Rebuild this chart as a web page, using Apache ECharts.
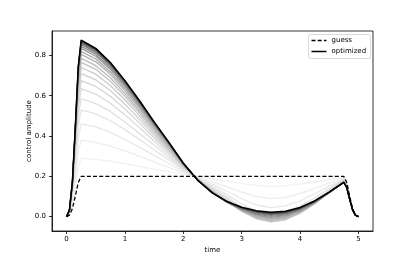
<!DOCTYPE html>
<html>
<head>
<meta charset="utf-8">
<script src="https://cdn.jsdelivr.net/npm/echarts@6/dist/echarts.min.js"></script>
<style>html,body{margin:0;padding:0;background:#fff}#c{width:415px;height:260px}</style>
</head>
<body>
<div id="c"></div>
<script>
// ---- data ----
const time = [0,0.05,0.1,0.15,0.2,0.25,0.5,0.75,1,1.25,1.5,1.75,2,2.25,2.5,2.75,3,3.25,3.5,3.75,4,4.25,4.5,4.75,4.8,4.85,4.9,4.95,5];
const guess = [0,0.008,0.040,0.102,0.170,0.2,0.2,0.2,0.2,0.2,0.2,0.2,0.2,0.2,0.2,0.2,0.2,0.2,0.2,0.2,0.2,0.2,0.2,0.2,0.170,0.102,0.040,0.008,0];
const iter01 = [0,0.012,0.058,0.148,0.247,0.290,0.284,0.275,0.263,0.250,0.236,0.223,0.209,0.197,0.187,0.176,0.164,0.155,0.150,0.153,0.161,0.172,0.184,0.196,0.167,0.100,0.039,0.008,0];
const iter02 = [0,0.015,0.076,0.194,0.323,0.380,0.369,0.350,0.326,0.300,0.272,0.245,0.217,0.195,0.172,0.148,0.122,0.099,0.090,0.096,0.114,0.139,0.167,0.192,0.163,0.098,0.038,0.008,0];
const iter03 = [0,0.018,0.092,0.235,0.391,0.460,0.445,0.418,0.383,0.344,0.304,0.265,0.225,0.192,0.160,0.126,0.089,0.058,0.045,0.054,0.078,0.114,0.153,0.188,0.160,0.096,0.038,0.008,0];
const iter04 = [0,0.021,0.106,0.270,0.451,0.530,0.510,0.476,0.432,0.383,0.332,0.283,0.232,0.190,0.150,0.108,0.064,0.026,0.010,0.021,0.051,0.094,0.141,0.185,0.157,0.094,0.037,0.007,0];
const iter05 = [0,0.023,0.117,0.298,0.497,0.585,0.561,0.522,0.470,0.413,0.354,0.297,0.237,0.189,0.142,0.096,0.048,0.008,-0.010,0.002,0.034,0.082,0.134,0.183,0.156,0.093,0.037,0.007,0];
const iter06 = [0,0.025,0.127,0.324,0.540,0.635,0.608,0.563,0.505,0.441,0.374,0.309,0.242,0.187,0.137,0.088,0.038,-0.002,-0.020,-0.008,0.025,0.074,0.129,0.181,0.154,0.092,0.036,0.007,0];
const iter07 = [0,0.027,0.135,0.344,0.574,0.675,0.646,0.597,0.534,0.464,0.390,0.320,0.246,0.186,0.132,0.082,0.033,-0.007,-0.025,-0.014,0.020,0.069,0.125,0.179,0.152,0.091,0.036,0.007,0];
const iter08 = [0,0.028,0.142,0.362,0.604,0.710,0.679,0.626,0.558,0.483,0.404,0.328,0.249,0.185,0.129,0.078,0.030,-0.009,-0.026,-0.015,0.018,0.067,0.123,0.177,0.150,0.090,0.035,0.007,0];
const iter09 = [0,0.030,0.148,0.377,0.629,0.740,0.707,0.651,0.580,0.500,0.416,0.336,0.252,0.184,0.126,0.075,0.028,-0.009,-0.025,-0.014,0.017,0.065,0.121,0.176,0.150,0.090,0.035,0.007,0];
const iter10 = [0,0.031,0.153,0.390,0.650,0.765,0.731,0.672,0.597,0.514,0.426,0.342,0.254,0.183,0.124,0.074,0.028,-0.007,-0.022,-0.012,0.019,0.065,0.120,0.175,0.149,0.089,0.035,0.007,0];
const iter11 = [0,0.031,0.157,0.400,0.667,0.785,0.749,0.689,0.611,0.524,0.434,0.347,0.256,0.183,0.123,0.073,0.029,-0.003,-0.018,-0.009,0.021,0.066,0.120,0.174,0.148,0.089,0.035,0.007,0];
const iter12 = [0,0.032,0.161,0.411,0.684,0.805,0.768,0.706,0.625,0.536,0.442,0.352,0.258,0.182,0.121,0.072,0.031,0.001,-0.013,-0.004,0.024,0.067,0.120,0.173,0.147,0.088,0.035,0.007,0];
const iter13 = [0,0.033,0.164,0.418,0.697,0.820,0.782,0.718,0.636,0.544,0.448,0.356,0.260,0.182,0.120,0.072,0.033,0.005,-0.008,0.000,0.027,0.068,0.119,0.173,0.147,0.088,0.035,0.007,0];
const iter14 = [0,0.033,0.167,0.426,0.710,0.835,0.796,0.731,0.646,0.552,0.454,0.360,0.261,0.181,0.119,0.072,0.035,0.009,-0.003,0.005,0.030,0.069,0.120,0.172,0.146,0.088,0.034,0.007,0];
const iter15 = [0,0.034,0.169,0.431,0.718,0.845,0.806,0.739,0.653,0.558,0.458,0.362,0.262,0.181,0.119,0.072,0.037,0.013,0.002,0.009,0.033,0.071,0.120,0.171,0.145,0.087,0.034,0.007,0];
const iter16 = [0,0.034,0.171,0.436,0.727,0.855,0.815,0.748,0.660,0.563,0.462,0.365,0.263,0.181,0.118,0.073,0.039,0.017,0.007,0.014,0.036,0.073,0.120,0.171,0.145,0.087,0.034,0.007,0];
const iter17 = [0,0.034,0.172,0.440,0.733,0.862,0.822,0.753,0.665,0.567,0.464,0.366,0.264,0.180,0.118,0.073,0.041,0.021,0.011,0.017,0.039,0.074,0.121,0.171,0.145,0.087,0.034,0.007,0];
const iter18 = [0,0.035,0.174,0.443,0.738,0.868,0.827,0.758,0.669,0.571,0.467,0.368,0.264,0.180,0.118,0.074,0.043,0.024,0.015,0.021,0.041,0.075,0.121,0.170,0.145,0.087,0.034,0.007,0];
const iter19 = [0,0.035,0.174,0.445,0.741,0.872,0.831,0.762,0.672,0.573,0.468,0.369,0.265,0.180,0.118,0.074,0.045,0.026,0.018,0.023,0.043,0.077,0.122,0.170,0.145,0.087,0.034,0.007,0];
const optimized = [0,0.035,0.175,0.447,0.745,0.876,0.835,0.765,0.675,0.575,0.470,0.370,0.265,0.180,0.118,0.075,0.047,0.030,0.022,0.027,0.046,0.078,0.122,0.170,0.145,0.087,0.034,0.007,0];
const xTicks = [0,1,2,3,4,5];
const yTicks = [0,0.2,0.4,0.6,0.8];
const legendLabels = ['guess','optimized'];
const iterations = [iter01,iter02,iter03,iter04,iter05,iter06,iter07,iter08,iter09,iter10,iter11,iter12,iter13,iter14,iter15,iter16,iter17,iter18,iter19];

// ---- style ----
const FONT = 'DejaVu Sans';
const DASH = [4,2.2];
const shadePos = [0.12,0.14,0.17,0.19,0.22,0.24,0.27,0.29,0.32,0.35,0.38,0.41,0.44,0.49,0.52,0.58,0.64,0.71,0.81];
const greys = [[0,[255,255,255]],[0.125,[240,240,240]],[0.25,[217,217,217]],[0.375,[189,189,189]],[0.5,[150,150,150]],[0.625,[115,115,115]],[0.75,[82,82,82]],[0.875,[37,37,37]],[1,[0,0,0]]];
function grey(v){
  for (let i=1;i<greys.length;i++){
    if (v<=greys[i][0]){
      const a=greys[i-1], b=greys[i], f=(v-a[0])/(b[0]-a[0]);
      const c=a[1].map((x,j)=>Math.round(x+(b[1][j]-x)*f));
      return 'rgb('+c.join(',')+')';
    }
  }
  return 'rgb(0,0,0)';
}
const pairs = arr => time.map((t,i)=>[t,arr[i]]);

const series = [];
iterations.forEach((arr,k)=>{
  series.push({type:'line', name:'iter'+(k+1), data:pairs(arr), showSymbol:false, symbol:'none', silent:true,
    lineStyle:{color:grey(shadePos[k]), width:1.3}});
});
series.push({type:'line', name:legendLabels[1], data:pairs(optimized), showSymbol:false, symbol:'none', silent:true,
  lineStyle:{color:'#000', width:1.5}});
series.push({type:'line', name:legendLabels[0], data:pairs(guess), showSymbol:false, symbol:'none', silent:true,
  lineStyle:{color:'#000', width:1.3, type:DASH}});

// legend drawn as graphic (matplotlib style box)
const LX = 308.5, LY = 34.5, LW = 62, LH = 24;
const graphic = [
  {type:'rect', shape:{x:LX, y:LY, width:LW, height:LH, r:2}, style:{fill:'rgba(255,255,255,0.8)', stroke:'#d0d0d0', lineWidth:0.8}, z:100},
  {type:'line', shape:{x1:LX+3, y1:LY+6, x2:LX+18, y2:LY+6}, style:{stroke:'#000', lineWidth:1.3, lineDash:DASH}, z:101},
  {type:'text', x:LX+23, y:LY+6, style:{text:legendLabels[0], fontSize:7, fontFamily:FONT, fill:'#000', verticalAlign:'middle', align:'left'}, z:101},
  {type:'line', shape:{x1:LX+3, y1:LY+17, x2:LX+18, y2:LY+17}, style:{stroke:'#000', lineWidth:1.5}, z:101},
  {type:'text', x:LX+23, y:LY+17, style:{text:legendLabels[1], fontSize:7, fontFamily:FONT, fill:'#000', verticalAlign:'middle', align:'left'}, z:101}
];

const chart = echarts.init(document.getElementById('c'), null, {renderer:'canvas'});
chart.setOption({
  animation:false,
  backgroundColor:'#fff',
  textStyle:{fontFamily:FONT},
  grid:{left:52, right:42, top:31, bottom:29, show:true, borderColor:'#000', borderWidth:0.8, backgroundColor:'transparent'},
  graphic:graphic,
  xAxis:{type:'value', min:-0.25, max:5.25, name:'time', nameLocation:'middle', nameGap:16, nameMoveOverlap:false,
    nameTextStyle:{fontSize:7, color:'#000', fontFamily:FONT},
    axisLine:{show:true, onZero:false, lineStyle:{color:'#000', width:0.8}},
    axisTick:{show:true, length:3, lineStyle:{color:'#000', width:0.8}, customValues:xTicks},
    axisLabel:{fontSize:7, color:'#000', margin:5, customValues:xTicks, formatter:v=>String(v)},
    splitLine:{show:false}},
  yAxis:{type:'value', min:-0.071, max:0.921, name:'control amplitude', nameLocation:'middle', nameGap:19, nameMoveOverlap:false,
    nameTextStyle:{fontSize:7, color:'#000', fontFamily:FONT},
    axisLine:{show:true, onZero:false, lineStyle:{color:'#000', width:0.8}},
    axisTick:{show:true, length:3, lineStyle:{color:'#000', width:0.8}, customValues:yTicks},
    axisLabel:{fontSize:7, color:'#000', margin:6, customValues:yTicks, formatter:v=>v.toFixed(1)},
    splitLine:{show:false}},
  series:series
});
</script>
</body>
</html>
